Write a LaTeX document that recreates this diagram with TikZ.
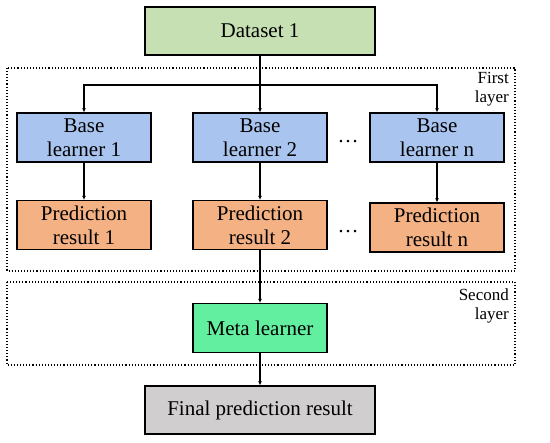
\documentclass[tikz,border=0pt]{standalone}
\usepackage{fontspec}
\setmainfont{Liberation Serif}
\usetikzlibrary{arrows.meta}
\definecolor{datagreen}{HTML}{C6E0B4}
\definecolor{baseblue}{HTML}{A9C4EE}
\definecolor{predorange}{HTML}{F4B183}
\definecolor{metagreen}{HTML}{62F0A0}
\definecolor{finalgray}{HTML}{D0CECE}
\begin{document}
\begin{tikzpicture}[x=1pt,y=-1pt,
		box/.style={draw, line width=1.3pt, minimum width=134pt, minimum height=49pt, inner sep=0pt, align=center, font=\fontsize{21}{24}\selectfont},
		wide/.style={box, minimum width=230pt, minimum height=48pt},
		arr/.style={-{Latex[length=4pt,width=4pt]}, line width=1.1pt},
		layer/.style={dotted, line width=1.1pt},
		tag/.style={anchor=north east, align=right, inner sep=0pt, font=\fontsize{17}{19}\selectfont}]
	\useasboundingbox (0,0) rectangle (550,443);
	
	\draw[layer] (7,68) rectangle (515,271);
	\draw[layer] (7,282) rectangle (515,365);
	\node[tag] (first) at (509,72) {First\\layer};
	\node[tag] (second) at (509,289) {Second\\layer};
	
	\node[wide, fill=datagreen] (ds) at (260,31) {Dataset 1};
	
	\node[box, fill=baseblue] (b1) at (84,137.5) {Base\\learner 1};
	\node[box, fill=baseblue] (b2) at (260,137.5) {Base\\learner 2};
	\node[box, fill=baseblue] (bn) at (437,137.5) {Base\\learner n};
	
	\node[box, fill=predorange] (p1) at (84,225) {Prediction\\result 1};
	\node[box, fill=predorange] (p2) at (260,225) {Prediction\\result 2};
	\node[box, fill=predorange] (pn) at (437,227.5) {Prediction\\result n};
	
	\node[font=\fontsize{21}{24}\selectfont] (dots1) at (348,142) {\dots};
	\node[font=\fontsize{21}{24}\selectfont] (dots2) at (348,232) {\dots};
	
	\node[box, fill=metagreen] (meta) at (260,328) {Meta learner};
	\node[wide, fill=finalgray] (final) at (260,410) {Final prediction result};
	
	\coordinate (split) at (260,85);
	\draw[arr] (ds) -- (b2);
	\draw[arr] (split) -| (b1);
	\draw[arr] (split) -| (bn);
	\draw[arr] (b1) -- (p1);
	\draw[arr] (b2) -- (p2);
	\draw[arr] (bn) -- (pn);
	\draw[arr] (p2) -- (meta);
	\draw[arr] (meta) -- (final);
\end{tikzpicture}
\end{document}
